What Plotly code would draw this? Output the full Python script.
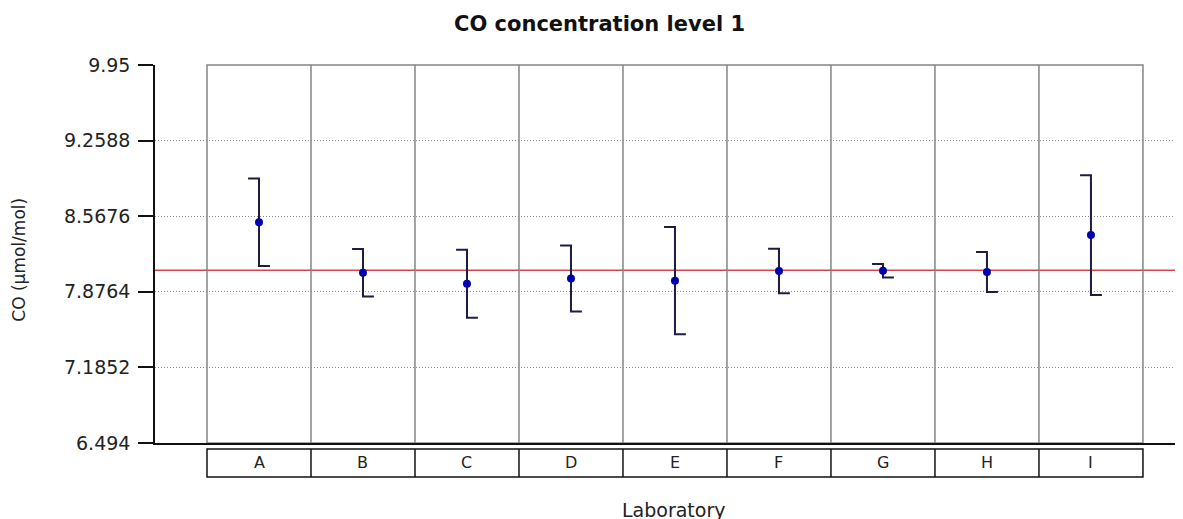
import plotly.graph_objects as go

# ---- data ----
labs = ["A", "B", "C", "D", "E", "F", "G", "H", "I"]
means = [8.513, 8.050, 7.950, 7.998, 7.978, 8.067, 8.069, 8.057, 8.395]
uncert = [0.400, 0.217, 0.310, 0.302, 0.490, 0.204, 0.061, 0.183, 0.547]
ref_value = 8.074
y_ticks = [6.494, 7.1852, 7.8764, 8.5676, 9.2588, 9.95]
y_tick_text = ["6.494", "7.1852", "7.8764", "8.5676", "9.2588", "9.95"]

title = "CO concentration level 1"
y_title = "CO (µmol/mol)"
x_title = "Laboratory"

FONT = "DejaVu Sans"
cap = 0.105  # half-width of the cap, in category units

xs = list(range(len(labs)))

# error bars drawn as "]" shapes: top cap to the left, bottom cap to the right
ex, ey = [], []
for i, m, u in zip(xs, means, uncert):
    hi, lo = m + u, m - u
    ex += [i - cap, i, i, i + cap, None]
    ey += [hi, hi, lo, lo, None]

fig = go.Figure()
fig.add_trace(go.Scatter(x=ex, y=ey, mode="lines",
                         line=dict(color="#1c1c44", width=2),
                         hoverinfo="skip", showlegend=False))
fig.add_trace(go.Scatter(x=xs, y=means, mode="markers",
                         marker=dict(color="#0000b0", size=8),
                         showlegend=False))

shapes = []
# reference line
shapes.append(dict(type="line", xref="paper", x0=0, x1=1, yref="y",
                   y0=ref_value, y1=ref_value,
                   line=dict(color="#d84450", width=1.6), layer="below"))
# laboratory columns (gray frame and dividers)
n = len(labs)
shapes.append(dict(type="rect", xref="x", x0=-0.5, x1=n - 0.5,
                   yref="paper", y0=0, y1=1,
                   line=dict(color="#858585", width=1.5), layer="below"))
for k in range(1, n):
    shapes.append(dict(type="line", xref="x", x0=k - 0.5, x1=k - 0.5,
                       yref="paper", y0=0, y1=1,
                       line=dict(color="#858585", width=1.5), layer="below"))
# label table below the axis
tb_top, tb_bot = -0.0159, -0.0899
shapes.append(dict(type="rect", xref="x", x0=-0.5, x1=n - 0.5,
                   yref="paper", y0=tb_bot, y1=tb_top,
                   line=dict(color="#111111", width=1.5), layer="above"))
for k in range(1, n):
    shapes.append(dict(type="line", xref="x", x0=k - 0.5, x1=k - 0.5,
                       yref="paper", y0=tb_bot, y1=tb_top,
                       line=dict(color="#111111", width=1.5), layer="above"))

annotations = [
    dict(text=y_title, xref="paper", yref="paper", x=-0.1323, y=0.485,
         textangle=-90, showarrow=False, xanchor="center", yanchor="middle",
         font=dict(family=FONT, size=17, color="#222222")),
    dict(text=x_title, xref="paper", yref="paper", x=0.505, y=-0.177,
         showarrow=False, xanchor="center", yanchor="middle",
         font=dict(family=FONT, size=19, color="#222222")),
]
for i, lab in zip(xs, labs):
    annotations.append(dict(text=lab, xref="x", yref="paper", x=i,
                            y=(tb_top + tb_bot) / 2, showarrow=False,
                            xanchor="center", yanchor="middle",
                            font=dict(family=FONT, size=16, color="#222222")))

# the page body adds an 8 px offset, so the margins are reduced by 8 px
fig.update_layout(
    width=1183, height=519,
    margin=dict(l=147, r=8, t=57, b=84),
    paper_bgcolor="white", plot_bgcolor="white",
    title=dict(text="<b>" + title + "</b>", x=0.5, xanchor="center",
               y=1 - 16 / 519, yanchor="middle", xref="container",
               font=dict(family=FONT, size=21, color="#111111")),
    shapes=shapes, annotations=annotations,
    font=dict(family=FONT),
)
fig.update_xaxes(range=[-1, 8.885], showgrid=False, zeroline=False,
                 showticklabels=False, ticks="",
                 showline=True, linecolor="#111111", linewidth=1.5)
fig.update_yaxes(range=[6.494, 9.95], tickvals=y_ticks, ticktext=y_tick_text,
                 showgrid=True, gridcolor="#8c8c8c", griddash="1px,2px", gridwidth=1,
                 zeroline=False, showline=True, linecolor="#111111", linewidth=1.5,
                 ticks="outside", ticklen=15, tickwidth=1.5, tickcolor="#111111",
                 ticklabelstandoff=4,
                 tickfont=dict(family=FONT, size=19, color="#222222"))

fig.write_html("out.html")
